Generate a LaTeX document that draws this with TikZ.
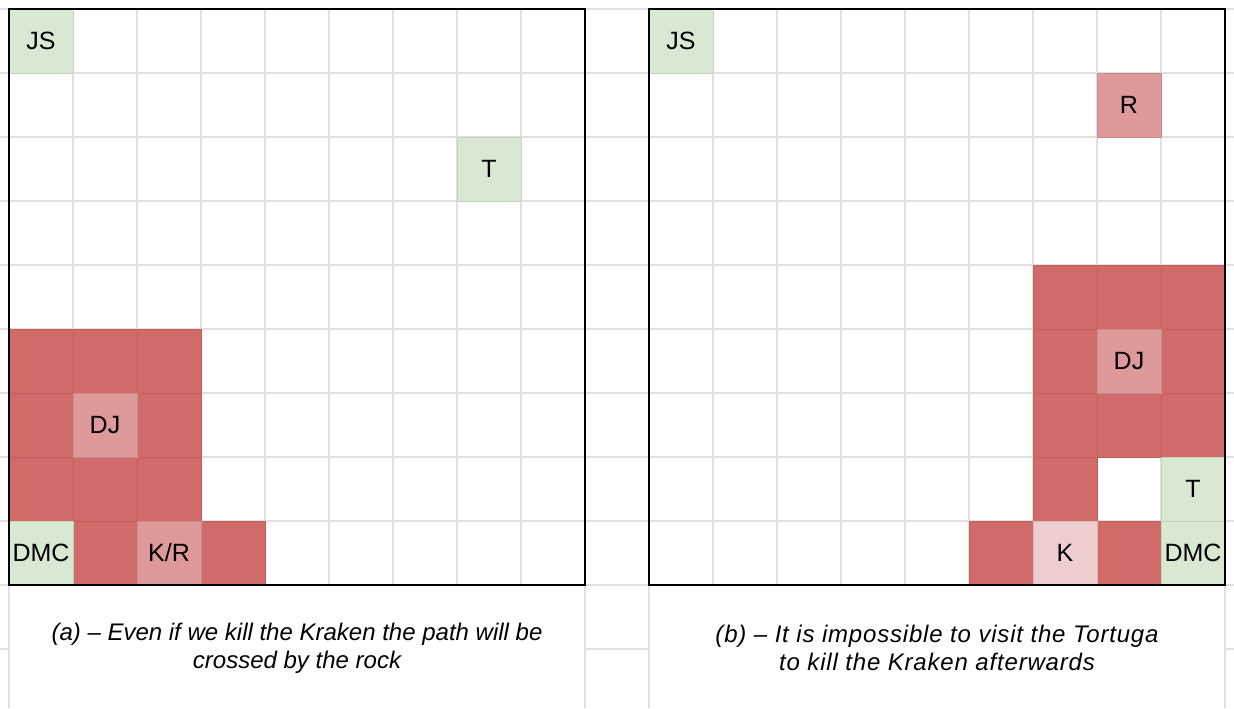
\documentclass[tikz,border=0pt]{standalone}
\usepackage{fontspec}
\setmainfont{Liberation Sans}
\usepackage{xcolor}
\definecolor{SheetGrey}{HTML}{E1E1E1}
\definecolor{CellGreen}{HTML}{D9E8D2}
\definecolor{CellGreenLine}{HTML}{C3D5BA}
\definecolor{CellRed}{HTML}{D06B6A}
\definecolor{CellRedLine}{HTML}{C05F5E}
\definecolor{CellRose}{HTML}{DE9A9A}
\definecolor{CellRoseLine}{HTML}{CD8C8C}
\definecolor{CellPale}{HTML}{EECDCF}
\definecolor{CellPaleLine}{HTML}{D9BDBE}

\begin{document}
\begin{tikzpicture}[x=0.5pt, y=-0.5pt,
  cell/.style={minimum size=32pt, inner sep=0pt, line width=0.5pt, font=\fontsize{12.5}{15}\selectfont},
  greencell/.style={cell, fill=CellGreen, draw=CellGreenLine},
  redcell/.style={cell, fill=CellRed, draw=CellRedLine},
  rosecell/.style={cell, fill=CellRose, draw=CellRoseLine},
  palecell/.style={cell, fill=CellPale, draw=CellPaleLine},
  caption/.style={font=\itshape\fontsize{12}{14}\selectfont, align=center},
  widecaption/.style={caption, font=\itshape\fontsize{12}{14}\selectfont\addfontfeature{LetterSpace=3.4}}]
  \useasboundingbox (0,0) rectangle (1234,708);

  % sheet lines
  \foreach \i in {0,...,9}
    \draw[SheetGrey, line width=0.65pt] (0,9+64*\i) -- (1234,9+64*\i);
  \foreach \i in {0,...,19}
    \draw[SheetGrey, line width=0.65pt] (9+64*\i,9) -- (9+64*\i,585);
  \foreach \x in {9,585,649,1225}
    \draw[SheetGrey, line width=0.65pt] (\x,585) -- (\x,708);
  \foreach \a/\b in {0/9,585/649,1225/1234}
    \draw[SheetGrey, line width=0.65pt] (\a,649) -- (\b,649);

  % (a) left board
  \foreach \c/\r in {0/5,1/5,2/5,0/6,2/6,0/7,1/7,2/7,1/8,3/8}
    \node[redcell] (ra-\c-\r) at (41+64*\c,41+64*\r) {};
  \node[greencell] (js-a) at (41,41) {JS};
  \node[greencell] (t-a) at (489,169) {T};
  \node[rosecell] (dj-a) at (105,425) {DJ};
  \node[greencell] (dmc-a) at (41,553) {DMC};
  \node[rosecell] (kr-a) at (169,553) {K/R};

  % (b) right board
  \foreach \c/\r in {6/4,7/4,8/4,6/5,8/5,6/6,7/6,8/6,6/7,5/8,7/8}
    \node[redcell] (rb-\c-\r) at (681+64*\c,41+64*\r) {};
  \node[greencell] (js-b) at (681,41) {JS};
  \node[rosecell] (r-b) at (1129,105) {R};
  \node[rosecell] (dj-b) at (1129,361) {DJ};
  \node[greencell] (t-b) at (1193,489) {T};
  \node[palecell] (k-b) at (1065,553) {K};
  \node[greencell] (dmc-b) at (1193,553) {DMC};

  % board frames
  \draw[line width=1pt] (9,9) rectangle (585,585);
  \draw[line width=1pt] (649,9) rectangle (1225,585);

  \node[caption] (cap-a) at (297,648) {(a) – Even if we kill the Kraken the path will be\\crossed by the rock};
  \node[widecaption] (cap-b) at (937,648) {(b) – It is impossible to visit the Tortuga\\to kill the Kraken afterwards};
\end{tikzpicture}
\end{document}
